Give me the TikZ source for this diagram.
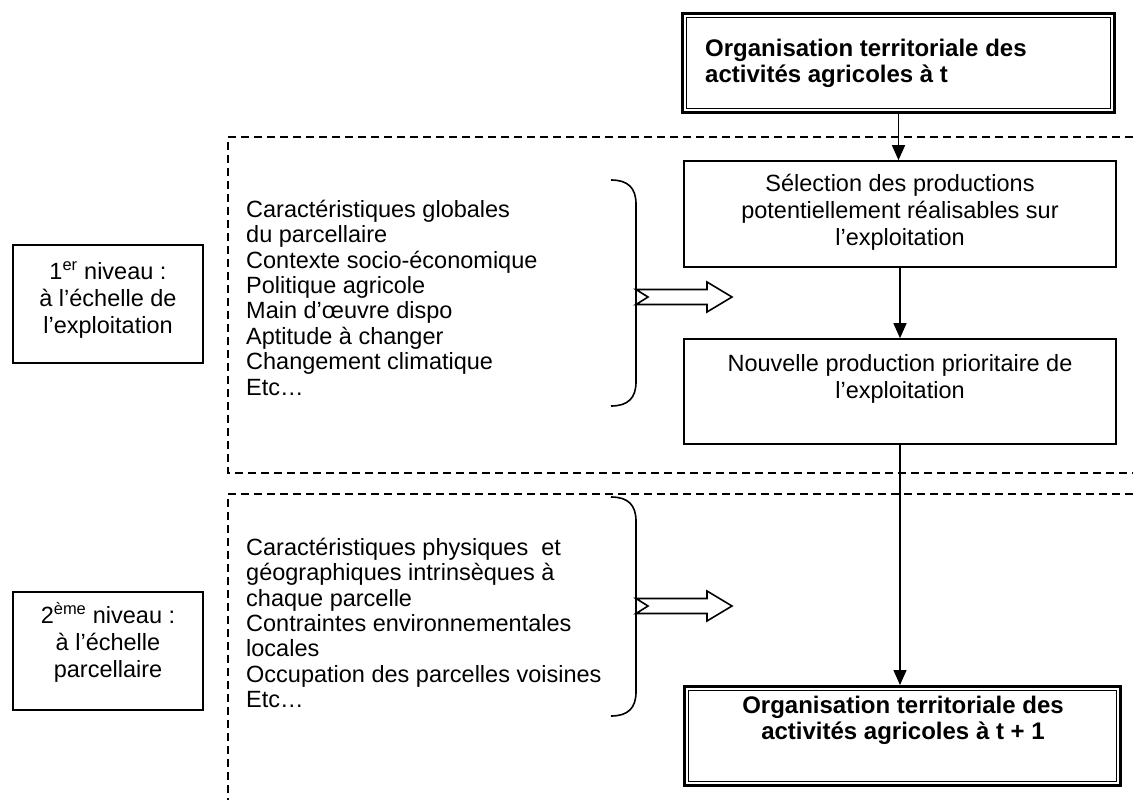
\documentclass[tikz,border=0pt]{standalone}
\usepackage{fontspec}
\setmainfont{Liberation Sans}
\usetikzlibrary{arrows.meta}
\begin{document}
\begin{tikzpicture}[x=1pt,y=-1pt,
  box/.style={draw, line width=1.6pt, inner sep=0pt},
  dbox/.style={draw, line width=3pt, inner sep=0pt},
  boxtxt/.style={inner sep=0pt, align=center, anchor=north, font=\fontsize{23.5}{27}\selectfont},
  boldtxt/.style={inner sep=0pt, font=\fontsize{24}{26}\selectfont\bfseries},
  listtxt/.style={inner sep=0pt, align=left, anchor=north west, font=\fontsize{23.5}{25.4}\selectfont},
  flow/.style={line width=1.4pt, -{Triangle[width=13pt,length=15pt]}},
  dsh/.style={line width=1.3pt, dash pattern=on 8pt off 5pt},
  brace/.style={line width=1.6pt},
  hollow/.style={line width=1.6pt, fill=white, line join=miter}
]
\useasboundingbox (0,0) rectangle (1133,800);

% dashed frames
\draw[dsh] (1133,137) -- (228,137) -- (228,473) -- (1133,473);
\draw[dsh] (1133,494) -- (228,494) -- (228,800);

% top box
\node[dbox, minimum width=432pt, minimum height=99pt] (top) at (898.5,63) {};
\draw[line width=1.3pt] ([shift={(5.5,5.5)}]top.north west) rectangle ([shift={(-5.5,-5.5)}]top.south east);
\node[boldtxt, align=left, anchor=north west] (toptxt) at (705,36) {\rule{0pt}{20pt}Organisation territoriale des\\activités agricoles à t};

% selection box
\node[box, minimum width=432pt, minimum height=106pt] (sel) at (900,214) {};
\node[boxtxt] (seltxt) at (900,171) {\rule{0pt}{20pt}Sélection des productions\\potentiellement réalisables sur\\l’exploitation};

% nouvelle box
\node[box, minimum width=432pt, minimum height=105pt] (nouv) at (900,391.5) {};
\node[boxtxt] (nouvtxt) at (900,351) {\rule{0pt}{20pt}Nouvelle production prioritaire de\\l’exploitation};

% bottom box
\node[dbox, minimum width=436pt, minimum height=99pt] (bot) at (902.5,736) {};
\draw[line width=1.3pt] ([shift={(5.5,5.5)}]bot.north west) rectangle ([shift={(-5.5,-5.5)}]bot.south east);
\node[boldtxt, align=center, anchor=north] (bottxt) at (903,693) {\rule{0pt}{20pt}Organisation territoriale des\\activités agricoles à t + 1};

% connectors
\draw[flow] (top.south) -- (top.south |- sel.north);
\draw[flow] (sel.south) -- (nouv.north);
\draw[flow] (nouv.south) -- (nouv.south |- bot.north);

% level boxes
\node[box, minimum width=190pt, minimum height=118pt] (lev1) at (108,304) {};
\node[boxtxt] (lev1txt) at (108,259) {\rule{0pt}{20pt}1\textsuperscript{er} niveau :\\à l’échelle de\\l’exploitation};
\node[box, minimum width=190pt, minimum height=118pt] (lev2) at (108,651) {};
\node[boxtxt] (lev2txt) at (108,602) {\rule{0pt}{20pt}2\textsuperscript{ème} niveau :\\à l’échelle\\parcellaire};

% lists
\node[listtxt] (list1) at (246,197) {\rule{0pt}{20pt}Caractéristiques globales\\du parcellaire\\Contexte socio-économique\\Politique agricole\\Main d’œuvre dispo\\Aptitude à changer\\Changement climatique\\Etc…};
\node[listtxt] (list2) at (246,535) {\rule{0pt}{20pt}Caractéristiques physiques \ et\\géographiques intrinsèques à\\chaque parcelle\\Contraintes environnementales\\locales\\Occupation des parcelles voisines\\Etc…};

% braces
\draw[brace] (611,180) .. controls (628,180) and (636,188) .. (636,204) -- (636,382) .. controls (636,398) and (628,406) .. (611,406);
\draw[brace] (611,497) .. controls (628,497) and (636,505) .. (636,521) -- (636,692) .. controls (636,708) and (628,716) .. (611,716);

% hollow arrows
\coordinate (b1) at (636,297);
\coordinate (b2) at (636,606);
\draw[hollow] (b1) ++(0,-7.5) -- ++(71,0) -- ++(0,-7.5) -- ++(25,15) -- ++(-25,15) -- ++(0,-7.5) -- ++(-71,0) -- ++(12,-7.5) -- cycle;
\draw[hollow] (b2) ++(0,-7.5) -- ++(71,0) -- ++(0,-7.5) -- ++(25,15) -- ++(-25,15) -- ++(0,-7.5) -- ++(-71,0) -- ++(12,-7.5) -- cycle;
\end{tikzpicture}
\end{document}
